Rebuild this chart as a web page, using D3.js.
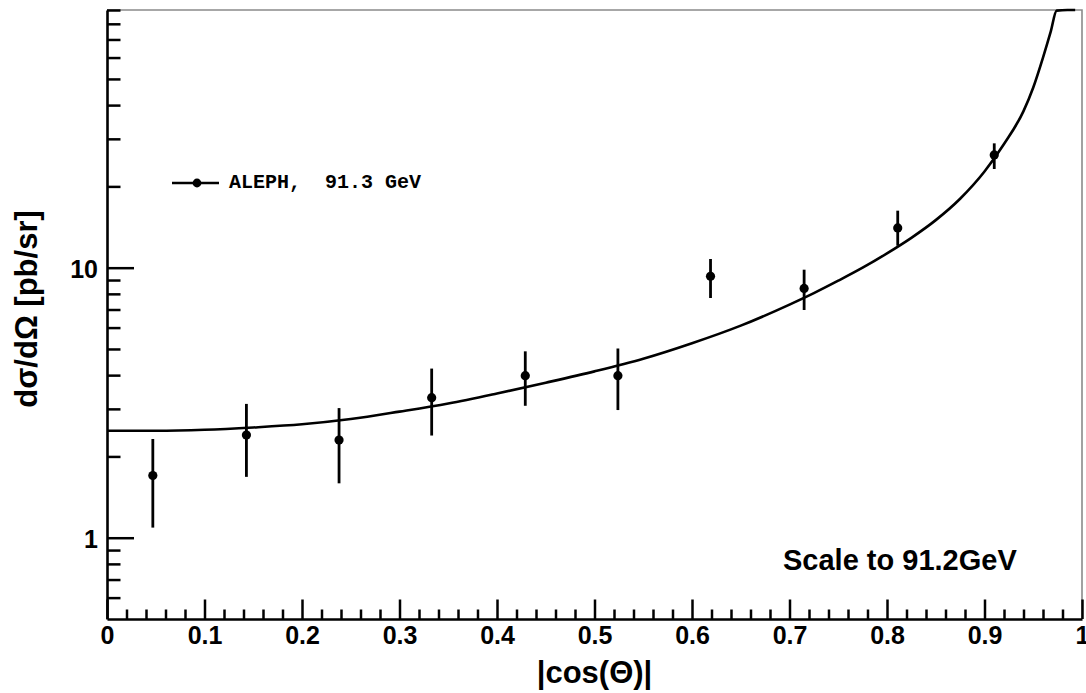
<!DOCTYPE html>
<html>
<head>
<meta charset="utf-8">
<script src="https://cdn.jsdelivr.net/npm/d3@7"></script>
<style>
  html, body { margin: 0; padding: 0; background: #fff; }
  svg { display: block; }
</style>
</head>
<body>
<svg id="chart" width="1086" height="693"></svg>
<script>
// ---- data ----
const pointX   = [0.047, 0.143, 0.238, 0.333, 0.429, 0.524, 0.619, 0.715, 0.811, 0.910];
const pointY   = [1.70, 2.40, 2.30, 3.30, 3.98, 3.98, 9.29, 8.38, 14.03, 26.15];
const pointHi  = [2.32, 3.13, 3.02, 4.23, 4.90, 5.02, 10.77, 9.83, 16.26, 28.87];
const pointLo  = [1.09, 1.68, 1.59, 2.39, 3.08, 2.97, 7.72, 6.97, 12.06, 23.2];

const curveX = [0, 0.05, 0.1, 0.15, 0.2, 0.25, 0.3, 0.35, 0.4, 0.45, 0.5, 0.55, 0.6, 0.65, 0.7, 0.725, 0.75, 0.775, 0.8, 0.825, 0.85, 0.875, 0.9, 0.92, 0.94, 0.95, 0.96, 0.968, 0.974, 0.985, 0.993];
const curveY = [2.49, 2.49, 2.51, 2.56, 2.63, 2.75, 2.93, 3.14, 3.42, 3.75, 4.13, 4.60, 5.25, 6.10, 7.30, 8.05, 8.95, 10.0, 11.3, 12.9, 15.0, 18.0, 22.7, 28.7, 38.0, 46.5, 60.0, 75.0, 89.5, 130, 200];

const xMajorTicks = [0, 0.1, 0.2, 0.3, 0.4, 0.5, 0.6, 0.7, 0.8, 0.9, 1];
const xTickLabels = ["0", "0.1", "0.2", "0.3", "0.4", "0.5", "0.6", "0.7", "0.8", "0.9", "1"];
const yMajorTicks = [1, 10];
const yTickLabels = ["1", "10"];
const yMinorTicks = [0.6, 0.7, 0.8, 0.9, 2, 3, 4, 5, 6, 7, 8, 9, 20, 30, 40, 50, 60, 70, 80, 90];

const legendLabel = "ALEPH,  91.3 GeV";
const annotation = "Scale to 91.2GeV";
const xTitle = "|cos(\u0398)|";
const yTitle = "d\u03c3/d\u03a9 [pb/sr]";

// ---- layout ----
const L = 107, R = 1082, T = 10, B = 619;
const svg = d3.select("#chart");
svg.append("rect").attr("width", 1086).attr("height", 693).attr("fill", "#fff");

const x = d3.scaleLinear().domain([0, 1]).range([L, R]);
const y = d3.scaleLog().domain([0.5, 90]).range([B, T]).clamp(true);

const FONT = "'Liberation Sans', Arial, Helvetica, sans-serif";

// frame (top & right, thin gray)
svg.append("path")
  .attr("d", `M${L},${T}H${R}V${B}`)
  .attr("fill", "none").attr("stroke", "#8a8a8a").attr("stroke-width", 1.6);

// x axis: minor ticks
const xMinor = d3.range(0, 51).map(i => i / 50).filter(v => Math.round(v * 50) % 5 !== 0);
svg.append("g").attr("transform", `translate(0,${B})`)
  .call(d3.axisBottom(x).tickValues(xMinor).tickSize(-9.5).tickFormat(""))
  .call(g => g.select(".domain").remove())
  .call(g => g.selectAll("line").attr("stroke", "#000").attr("stroke-width", 2.5));

// x axis: major ticks + labels
svg.append("g").attr("transform", `translate(0,${B})`)
  .call(d3.axisBottom(x).tickValues(xMajorTicks).tickSizeInner(-19.5).tickSizeOuter(0)
        .tickPadding(7).tickFormat((d, i) => xTickLabels[i]))
  .call(g => g.select(".domain").attr("stroke", "#000").attr("stroke-width", 2.6))
  .call(g => g.selectAll("line").attr("stroke", "#000").attr("stroke-width", 2.5))
  .call(g => g.selectAll("text").attr("fill", "#000")
        .attr("font-family", FONT).attr("font-weight", "bold").attr("font-size", 25)
        .attr("dy", "0.71em"));

// y axis: minor ticks
svg.append("g").attr("transform", `translate(${L},0)`)
  .call(d3.axisLeft(y).tickValues(yMinorTicks).tickSize(-13.5).tickFormat(""))
  .call(g => g.select(".domain").remove())
  .call(g => g.selectAll("line").attr("stroke", "#000").attr("stroke-width", 2.5));

// y axis: major ticks + labels
svg.append("g").attr("transform", `translate(${L},0)`)
  .call(d3.axisLeft(y).tickValues(yMajorTicks).tickSizeInner(-27).tickSizeOuter(0)
        .tickPadding(9).tickFormat((d, i) => yTickLabels[i]))
  .call(g => g.select(".domain").attr("stroke", "#000").attr("stroke-width", 2.6))
  .call(g => g.selectAll("line").attr("stroke", "#000").attr("stroke-width", 2.5))
  .call(g => g.selectAll("text").attr("fill", "#000")
        .attr("font-family", FONT).attr("font-weight", "bold").attr("font-size", 25)
        .attr("dy", "0.40em"));

// curve
const curveData = curveX.map((v, i) => [v, curveY[i]]);
svg.append("path")
  .datum(curveData)
  .attr("fill", "none").attr("stroke", "#000").attr("stroke-width", 2.6)
  .attr("stroke-linejoin", "round")
  .attr("d", d3.line().x(d => x(d[0])).y(d => y(d[1])).curve(d3.curveMonotoneX));

// error bars
const pts = pointX.map((v, i) => ({ x: v, y: pointY[i], hi: pointHi[i], lo: pointLo[i] }));
svg.append("g").selectAll("line").data(pts).join("line")
  .attr("x1", d => x(d.x)).attr("x2", d => x(d.x))
  .attr("y1", d => y(d.hi)).attr("y2", d => y(d.lo))
  .attr("stroke", "#000").attr("stroke-width", 2.8);
svg.append("g").selectAll("circle").data(pts).join("circle")
  .attr("cx", d => x(d.x)).attr("cy", d => y(d.y)).attr("r", 4.6).attr("fill", "#000");

// legend
const lg = svg.append("g");
lg.append("line").attr("x1", 172).attr("x2", 219).attr("y1", 183).attr("y2", 183)
  .attr("stroke", "#000").attr("stroke-width", 2.6);
lg.append("circle").attr("cx", 197).attr("cy", 183).attr("r", 4.4).attr("fill", "#000");
lg.append("text").attr("x", 229).attr("y", 188)
  .attr("font-family", "'Liberation Mono', 'Courier New', monospace")
  .attr("font-weight", "bold").attr("font-size", 20).attr("fill", "#000")
  .attr("xml:space", "preserve").style("white-space", "pre")
  .text(legendLabel);

// annotation
svg.append("text").attr("x", 783).attr("y", 570)
  .attr("font-family", FONT).attr("font-weight", "bold").attr("font-size", 29).attr("fill", "#000")
  .text(annotation);

// axis titles
svg.append("text").attr("x", (L + R) / 2).attr("y", 683).attr("text-anchor", "middle")
  .attr("font-family", FONT).attr("font-weight", "bold").attr("font-size", 31).attr("fill", "#000")
  .text(xTitle);
svg.append("text")
  .attr("transform", `translate(36.5,309) rotate(-90)`).attr("text-anchor", "middle")
  .attr("font-family", FONT).attr("font-weight", "bold").attr("font-size", 31).attr("fill", "#000")
  .text(yTitle);
</script>
</body>
</html>
